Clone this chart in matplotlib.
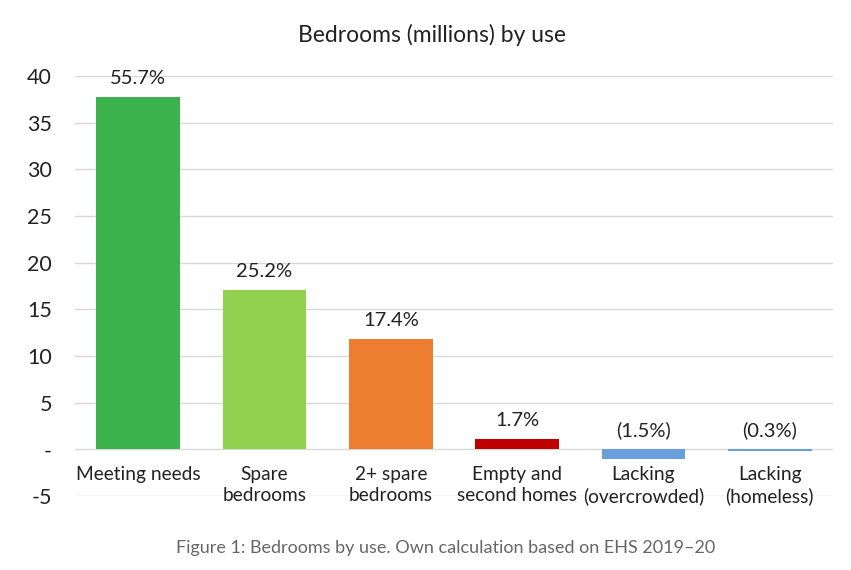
import matplotlib
matplotlib.use("Agg")
import matplotlib.pyplot as plt

categories = ["Meeting needs", "Spare\nbedrooms", "2+ spare\nbedrooms",
              "Empty and\nsecond homes", "Lacking\n(overcrowded)", "Lacking\n(homeless)"]
values = [37.8, 17.1, 11.8, 1.15, -1.0, -0.2]
labels = ["55.7%", "25.2%", "17.4%", "1.7%", "(1.5%)", "(0.3%)"]
colors = ["#3BB24C", "#92D050", "#ED7D31", "#C00000", "#6A9FDB", "#6A9FDB"]
yticks = [-5, 0, 5, 10, 15, 20, 25, 30, 35, 40]
ytick_labels = ["-5", "-", "5", "10", "15", "20", "25", "30", "35", "40"]

plt.rcParams['font.family'] = ['Lato', 'DejaVu Sans']

fig = plt.figure(figsize=(8.51, 5.70), dpi=100)
ax = fig.add_axes([75/851, 74/570, 758/851, 420/570])

x = list(range(len(categories)))
ax.bar(x, values, width=0.66, color=colors, zorder=3)
ax.set_xlim(-0.5, 5.5)
ax.set_ylim(-5, 40)
ax.set_yticks(yticks)
ax.set_yticklabels(ytick_labels, fontsize=15.5, color="#222222")
ax.tick_params(axis='y', length=0, pad=16.5)
ax.set_xticks([])
ax.grid(axis='y', color="#d9d9d9", linewidth=1, zorder=0)
for s in ax.spines.values():
    s.set_visible(False)

for xi, v, lab in zip(x, values, labels):
    ax.annotate(lab, (xi, max(v, 0)), xytext=(0, 7), textcoords="offset points",
                ha="center", va="bottom", fontsize=14.5, color="#222222")

for xi, cat in zip(x, categories):
    ax.annotate(cat, (xi, 0), xytext=(0, -12), textcoords="offset points",
                ha="center", va="top", fontsize=13.8, color="#222222", linespacing=1.3)

fig.text(432/851, 1 - 35/570, "Bedrooms (millions) by use", ha="center", va="center",
         fontsize=16.5, color="#222222")
fig.text(446/851, 1 - 548/570, "Figure 1: Bedrooms by use. Own calculation based on EHS 2019\u201320",
         ha="center", va="center", fontsize=13, color="#666666")

fig.savefig("out.png", dpi=100)
